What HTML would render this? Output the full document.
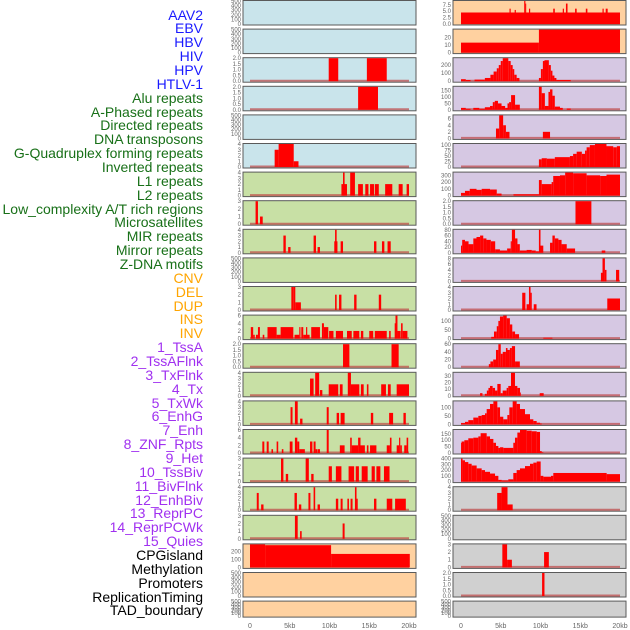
<!DOCTYPE html>
<html><head><meta charset="utf-8">
<style>
html,body{margin:0;padding:0;background:#fff;}
#wrap{position:relative;width:630px;height:630px;overflow:hidden;font-family:"Liberation Sans",sans-serif;}
.lbl{position:absolute;right:427px;font-size:14px;line-height:14px;white-space:nowrap;}
svg{position:absolute;left:0;top:0;}
</style></head>
<body>
<div id="wrap">
<div id="labels"></div>
<svg id="chart" width="630" height="630"></svg>
</div>
<script>
const labelNames = ["AAV2","EBV","HBV","HIV","HPV","HTLV-1","Alu repeats","A-Phased repeats","Directed repeats","DNA transposons","G-Quadruplex forming repeats","Inverted repeats","L1 repeats","L2 repeats","Low_complexity A/T rich regions","Microsatellites","MIR repeats","Mirror repeats","Z-DNA motifs","CNV","DEL","DUP","INS","INV","1_TssA","2_TssAFlnk","3_TxFlnk","4_Tx","5_TxWk","6_EnhG","7_Enh","8_ZNF_Rpts","9_Het","10_TssBiv","11_BivFlnk","12_EnhBiv","13_ReprPC","14_ReprPCWk","15_Quies","CPGisland","Methylation","Promoters","ReplicationTiming","TAD_boundary"];
const labelGroups = ["virus","virus","virus","virus","virus","virus","repeat","repeat","repeat","repeat","repeat","repeat","repeat","repeat","repeat","repeat","repeat","repeat","repeat","sv","sv","sv","sv","sv","chrom","chrom","chrom","chrom","chrom","chrom","chrom","chrom","chrom","chrom","chrom","chrom","chrom","chrom","chrom","other","other","other","other","other"];
const xTicks = [0,5,10,15,20];
const xTickLabels = ["0","5kb","10kb","15kb","20kb"];
const E5 = [0,100,200,300,400,500];
const H2 = [0,0.5,1,1.5,2];
const leftTicks = [E5,E5,H2,H2,E5,[0,1,2,3,4],[0,1,2,3,4],[0,1,2,3],[0,1,2,3,4],E5,[0,1,2,3],[0,2,4,6],H2,[0,1,2,3,4],[0,1,2,3,4],[0,2,4,6],[0,1,2,3],[0,1,2,3,4],[0,1,2,3],[0,100,200],E5,E5];
const rightTicks = [[0,2.5,5,7.5],[0,10,20],[0,100,200],[0,50,100,150],[0,2,4,6],[0,25,50,75,100],[0,100,200,300],H2,[0,20,40,60,80],[0,2,4,6,8],[0,1,2,3,4],[0,50,100],[0,20,40,60],[0,10,20,30],[0,50,100],[0,50,100,150],[0,100,200,300,400],[0,1,2,3,4],E5,[0,1,2,3],H2,E5];
const leftSegs = [
[],[],
[[9.9,11.1,2],[14.7,17.2,2]],
[[13.6,16.1,2]],
[],
[[3.1,3.6,3],[3.6,5.5,4],[5.5,6.1,1]],
[[11.5,12.2,2],[11.7,11.9,4],[12.6,13.2,4],[13.6,14.2,2],[14.5,14.9,2],[15.1,15.6,2],[15.7,16.2,2],[17.0,17.9,2],[18.7,19.2,2],[19.7,20,2]],
[[0.7,1.0,3],[1.26,1.6,1]],
[[4.2,4.5,3],[4.8,5.1,1],[8.0,8.3,3],[8.5,8.8,1],[10.6,11.0,2],[10.7,10.9,4],[11.4,11.7,2],[15.6,15.9,2],[16.6,16.9,2],[17.3,17.7,2]],
[],
[[5.2,5.5,3],[5.5,5.7,3],[5.7,6.4,1],[10.7,10.9,2],[11.2,11.5,2],[13.1,13.4,2],[16.2,16.5,2]],
[[0.1,0.4,3],[0.4,0.6,1],[0.75,1.0,1],[1.0,1.25,3],[1.6,1.8,1],[2.2,3.35,3],[3.35,3.85,1],[3.85,5.45,3],[5.6,6.2,1],[6.2,6.35,3],[6.45,6.7,3],[6.7,7.5,1],[7.05,7.2,3],[7.7,8.8,3],[9.05,9.3,4],[9.3,9.85,3],[9.95,10.5,2],[10.8,11.7,2],[12.2,12.8,2],[13.0,13.75,2],[13.95,14.25,2],[15.0,15.5,2],[15.7,17.2,2],[17.5,17.7,2],[18.2,18.4,4],[18.3,18.55,6],[18.55,18.95,2],[19.0,19.2,4],[19.2,19.8,2]],
[[11.7,12.5,2],[17.8,18.7,2]],
[[7.55,8.0,3],[8.2,8.7,4],[8.8,9.1,1],[9.9,11.1,2],[11.3,11.65,2],[12.3,12.7,4],[12.7,13.75,2],[13.95,14.3,2],[14.7,14.9,2],[16.5,17.1,2],[17.35,17.7,2],[18.45,20,2]],
[[5.1,5.35,3],[5.65,6.0,4],[6.3,6.6,1],[9.65,9.9,3],[10.9,11.2,2],[11.4,11.9,2],[15.2,15.5,2],[17.5,18.0,2],[19.3,19.6,2]],
[[1.55,1.8,3],[2.1,2.35,3],[2.7,2.9,1],[3.35,3.55,3],[4.0,4.2,1],[5.0,5.35,3],[5.65,5.95,4],[5.95,6.2,3],[6.2,6.9,1],[7.55,7.85,3],[8.0,8.25,3],[8.25,8.45,1],[8.5,8.8,1],[9.65,9.9,6],[11.3,11.9,2],[12.6,12.8,4],[12.8,13.6,2],[13.6,13.9,4],[13.9,14.45,2],[14.7,14.9,2],[15.1,15.9,2],[17.2,17.6,2],[17.6,17.8,4],[18.45,18.75,2],[18.75,18.9,4],[18.9,19.1,2],[19.4,19.7,2],[19.7,19.9,4]],
[[3.9,4.2,3],[4.5,4.8,1],[7.0,7.4,3],[7.7,8.0,1],[9.9,10.3,2],[10.8,11.5,2],[12.4,13.1,2],[13.3,13.7,2],[14.05,14.8,2],[15.3,15.7,2],[15.9,16.4,2],[16.85,17.55,2]],
[[0.85,1.1,3],[1.4,1.7,1],[5.6,5.9,3],[6.15,6.45,1],[7.35,7.6,3],[8.0,8.2,4],[8.5,8.8,1],[10.8,11.1,2],[11.4,11.65,2],[12.25,12.45,2],[12.65,12.9,2],[13.2,13.4,4],[13.4,13.55,2],[15.6,15.9,2],[17.2,17.9,2],[18.25,19.6,2]],
[[5.65,6.0,3],[6.3,6.5,1],[11.65,11.9,2]],
[[0,1.9,290],[1.9,10.2,280],[10.2,20.1,170]],
[],[]
];
const rightSegs = [
[[0,20,4.5],[6.1,6.25,6],[6.75,6.9,5.5],[7.95,8.1,9],[8.1,8.2,8],[8.55,8.7,6],[11.6,11.8,6],[12.8,12.95,6],[13.2,13.4,8],[14.35,14.55,6],[15.7,15.9,6],[17.8,17.95,6],[18.2,18.45,6]],
[[0,9.8,13],[9.8,20,30]],
[[0,0.6,25],[0.6,1.2,15],[1.7,3.0,20],[3.0,3.7,40],[3.7,4.1,80],[4.1,4.5,120],[4.5,4.75,160],[4.75,5.0,200],[5.0,5.25,250],[5.25,5.95,285],[5.95,6.25,250],[6.25,6.5,200],[6.5,6.7,150],[6.7,7.0,80],[7.0,7.35,40],[9.8,10.05,40],[10.05,10.3,150],[10.3,10.5,250],[10.5,11.05,260],[11.05,11.3,200],[11.3,11.5,130],[11.5,11.75,70],[11.75,12.0,40],[12.0,13.8,15]],
[[0,0.6,15],[0.6,1.2,8],[1.55,2.3,15],[2.3,3.0,8],[3.0,3.65,20],[3.65,4.0,30],[4.0,4.25,60],[4.25,4.65,70],[4.65,5.1,50],[5.1,5.55,30],[5.55,5.85,15],[5.85,6.05,50],[6.05,6.3,60],[6.3,6.8,115],[6.8,7.4,40],[9.8,10.15,180],[10.15,10.55,130],[10.55,11.0,30],[11.0,11.2,140],[11.2,11.5,160],[11.5,11.8,110],[11.8,12.45,25],[12.45,12.8,15],[13.3,13.8,10]],
[[4.4,4.8,3],[4.8,5.3,7],[5.3,5.65,4],[5.65,6.1,2],[10.3,11.2,2]],
[[9.8,10.15,35],[10.15,10.8,40],[10.8,11.8,38],[11.8,13.7,45],[13.7,14.1,50],[14.1,14.55,60],[14.55,15.2,70],[15.2,15.6,60],[15.6,15.8,75],[15.8,16.2,90],[16.2,16.85,100],[16.85,18.3,105],[18.3,19.15,95],[19.15,19.6,90],[19.6,20,95]],
[[0,0.5,40],[0.5,1.1,70],[1.1,1.95,100],[1.95,2.6,85],[2.6,3.65,100],[3.65,4.5,90],[4.5,5.1,30],[6.6,9.8,20],[9.8,10.15,230],[10.15,11.4,170],[11.4,11.6,200],[11.6,12.45,290],[12.45,13.1,300],[13.1,14.1,340],[14.1,15.8,330],[15.8,17.5,300],[17.5,18.3,290],[18.3,20,310]],
[[14.4,16.4,2]],
[[0,0.15,25],[0.15,0.5,45],[0.5,0.95,40],[0.95,1.55,30],[1.55,1.95,50],[1.95,2.4,55],[2.4,2.8,60],[2.8,3.2,50],[3.2,3.75,45],[3.75,4.3,40],[4.3,4.9,12],[4.9,5.8,8],[5.8,6.25,15],[6.25,6.4,40],[6.4,6.8,80],[6.8,7.1,50],[7.1,7.4,30],[7.4,8.25,8],[8.25,8.9,10],[8.9,9.4,8],[9.4,9.8,5],[9.8,10.0,80],[10.0,10.35,25],[11.2,11.5,35],[11.5,11.8,60],[11.8,12.25,50],[12.25,12.65,45],[12.65,13.3,30],[13.3,14.35,15],[17.7,18.15,8]],
[[17.6,17.8,3],[17.8,18.1,8],[18.1,18.3,4],[19.5,19.9,4]],
[[7.7,8.1,3],[8.25,8.55,1],[8.55,8.75,4],[8.75,8.9,3],[9.15,9.5,1],[18.4,20,2]],
[[3.8,4.15,10],[4.15,4.5,40],[4.5,4.7,70],[4.7,4.9,100],[4.9,5.3,125],[5.3,5.75,130],[5.75,6.15,115],[6.15,6.45,80],[6.45,6.8,40],[6.8,7.3,25],[10.35,11.5,5]],
[[3.5,3.7,8],[3.7,4.05,15],[4.05,4.4,20],[4.4,4.7,45],[4.7,5.0,60],[5.0,5.25,35],[5.25,5.65,40],[5.65,5.85,50],[5.85,6.15,45],[6.15,6.4,50],[6.4,6.8,55],[6.8,7.4,15]],
[[2.4,2.7,4],[3.0,3.25,3],[3.25,3.45,8],[3.45,3.65,12],[3.65,3.98,15],[3.98,4.28,12],[4.28,4.57,8],[4.57,4.99,18],[4.99,5.24,4],[5.24,5.74,8],[5.74,5.95,12],[5.95,6.29,15],[6.29,6.79,35],[6.79,7.09,15],[7.09,7.42,12],[7.42,7.5,5],[9.9,10.4,4]],
[[0,0.5,8],[0.5,0.92,15],[0.92,1.55,25],[1.55,2.18,40],[2.18,2.6,50],[2.6,3.02,55],[3.02,3.23,65],[3.23,3.65,90],[3.65,4.07,120],[4.07,4.57,135],[4.57,4.91,100],[4.91,5.32,45],[5.32,5.83,30],[5.83,6.08,55],[6.08,6.5,100],[6.5,7.0,135],[7.0,7.42,120],[7.42,8.05,90],[8.05,8.68,60],[8.68,9.1,30],[9.1,9.52,20],[9.52,9.94,10],[9.94,10.15,5]],
[[0,0.08,80],[0.08,0.42,90],[0.42,0.92,100],[0.92,1.55,115],[1.55,2.18,120],[2.18,2.47,130],[2.47,3.23,155],[3.23,3.65,130],[3.65,4.07,110],[4.07,4.4,80],[4.4,4.7,55],[4.7,4.91,40],[4.91,5.32,45],[5.32,6.58,40],[6.58,6.79,80],[6.79,7.09,120],[7.09,7.42,160],[7.42,8.26,180],[8.26,8.89,175],[8.89,9.52,170],[9.52,9.94,165],[9.94,10.15,15],[10.15,10.36,5]],
[[0,0.2,400],[0.2,0.5,370],[0.5,0.92,340],[0.92,1.34,310],[1.34,1.97,280],[1.97,2.6,230],[2.6,3.02,200],[3.02,3.65,170],[3.65,4.28,140],[4.28,4.7,100],[4.7,5.12,30],[5.12,5.95,20],[5.95,6.58,40],[6.58,7.0,150],[7.0,7.42,200],[7.42,8.05,230],[8.05,8.68,270],[8.68,9.1,310],[9.1,9.52,330],[9.52,10.02,350],[10.02,10.36,100],[10.36,11.32,85],[11.32,11.61,100],[11.61,18.32,150],[18.32,20,130]],
[[4.55,5.1,3],[5.1,5.85,4],[5.85,6.5,1]],
[],
[[5.2,5.8,3],[5.8,6.4,1],[10.45,11.05,2]],
[[10.2,10.5,2]],
[]
];
const groupColors = {virus:"#c9e4eb",repeat:"#c8e0a5",sv:"#ffd1a0",chrom:"#d6c8e3",other:"#d0d0d0"};
const labelColors = {virus:"#1a1aff",repeat:"#187018",sv:"#ffa500",chrom:"#a030f0",other:"#000000"};

const NS="http://www.w3.org/2000/svg";
const svg=document.getElementById('chart');
function mk(tag,attrs,parent){const e=document.createElementNS(NS,tag);for(const k in attrs)e.setAttribute(k,attrs[k]);(parent||svg).appendChild(e);return e;}

// labels
const labDiv=document.getElementById('labels');
labelNames.forEach((n,i)=>{
  const d=document.createElement('div');
  d.className='lbl';
  d.style.top=(15+i*13.86-7.5)+'px';
  d.style.color=labelColors[labelGroups[i]];
  d.textContent=n;
  
  
  labDiv.appendChild(d);
});

const rowStep=28.6;
function rowTop(i){return 0.5+i*rowStep;}
function rowH(i){return i===21?16:24.5;}
function drawColumn(col,segsArr,ticksArr){
  const px = col===0?243:453;
  const x0 = col===0?250:461;
  const xs = kb=>x0+kb*7.95;
  segsArr.forEach((segs,i)=>{
    const idx = col*22+i;
    const grp = labelGroups[idx];
    const top=rowTop(i), h=rowH(i);
    const g=mk('g',{});
    
    
    const bg=mk('rect',{x:px,y:top,width:173,height:h,fill:groupColors[grp],stroke:'#5a5a5a','stroke-width':1},g);
    
    
    const ticks=ticksArr[i];
    let ymax=ticks[ticks.length-1];
    segs.forEach(s=>{if(s[2]>ymax)ymax=s[2];});
    const bottom=top+h-1;
    const ys=v=>bottom-(v/ymax)*(h-1.5);
    if(segs.length){
      const bl=mk('line',{x1:xs(0),x2:xs(20),y1:bottom-0.5,y2:bottom-0.5,stroke:'rgba(190,70,70,0.7)','stroke-width':2},g);
      
      
    }
    segs.forEach(s=>{
      const r=mk('rect',{x:xs(s[0]),y:ys(s[2]),width:Math.max(0.8,xs(s[1])-xs(s[0])),height:bottom-ys(s[2]),fill:'#ff0000'},g);
      
      
    });
    const dec=ticks.some(t=>t%1!==0);
    ticks.forEach(t=>{
      const tx=mk('text',{x:px-2,y:ys(t)+2,'font-size':6,'text-anchor':'end',fill:'#666','font-family':'Liberation Sans, sans-serif'},g);
      tx.textContent=dec?t.toFixed(1):String(t);
      
      
    });
  });
  xTicks.forEach((t,k)=>{
    const tx=mk('text',{x:xs(t),y:628,'font-size':7,'text-anchor':'middle',fill:'#666','font-family':'Liberation Sans, sans-serif'});
    tx.textContent=xTickLabels[k];
    
    
  });
}
drawColumn(0,leftSegs,leftTicks);
drawColumn(1,rightSegs,rightTicks);
</script>
</body></html>
